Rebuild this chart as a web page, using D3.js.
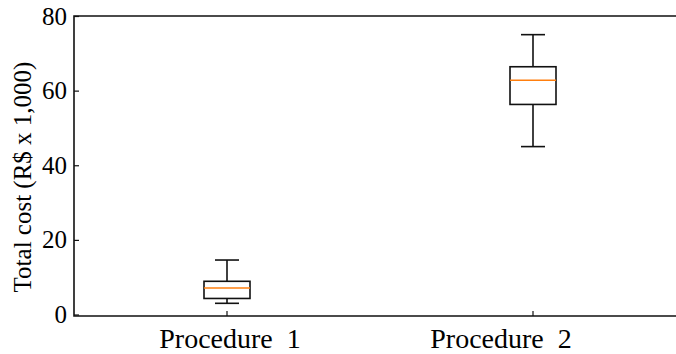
<!DOCTYPE html>
<html>
<head>
<meta charset="utf-8">
<script src="https://cdn.jsdelivr.net/npm/d3@7"></script>
<style>
  html, body { margin: 0; padding: 0; background: #fff; overflow: hidden; }
  svg { display: block; }
  text { font-family: "Liberation Serif", "Times New Roman", serif; fill: #000; }
</style>
</head>
<body>
<svg id="chart" width="676" height="354"></svg>
<script>
// box stats (R$ x 1,000)
var procedures = ['Procedure 1', 'Procedure 2'];
var whiskerLow = [3.0, 45];
var q1 = [4.3, 56.3];
var medians = [7.1, 62.8];
var q3 = [8.9, 66.4];
var whiskerHigh = [14.6, 75];
var yTicks = [0, 20, 40, 60, 80];

var svg = d3.select('#chart');

var plotL = 74, plotR = 686, plotT = 16, plotB = 316;
var W = 676;

var x = d3.scaleLinear().domain([0.5, 2.5]).range([plotL, plotR]);
var y = d3.scaleLinear().domain([-0.4, 80]).range([plotB, plotT]);

var boxW = 46, capW = 24;
var labelShift = [3, -32]; // labels sit off their ticks in the original

var boxes = procedures.map(function(p, i) {
    return { name: p, pos: i + 1, lo: whiskerLow[i], q1: q1[i], med: medians[i], q3: q3[i], hi: whiskerHigh[i] };
});

// spines: left, top, bottom (the right one is past the picture edge)
svg.append('path')
    .attr('d', 'M' + W + ',' + plotT + 'H' + plotL + 'V' + plotB + 'H' + W)
    .attr('fill', 'none').attr('stroke', '#111').attr('stroke-width', 1.6);

// y axis, ticks inward
var yAxis = svg.append('g').attr('transform', 'translate(' + plotL + ',0)')
    .call(d3.axisLeft(y).tickValues(yTicks).tickSizeInner(-5).tickSizeOuter(0).tickPadding(7));
yAxis.select('.domain').remove();
yAxis.selectAll('line').attr('stroke', '#111').attr('stroke-width', 1.2);
yAxis.selectAll('text').style('font-size', '25px').attr('fill', '#000');

// x ticks, inward
svg.selectAll('.xtick').data(boxes).enter().append('line')
    .attr('x1', function(d) { return x(d.pos); })
    .attr('x2', function(d) { return x(d.pos); })
    .attr('y1', plotB).attr('y2', plotB - 5)
    .attr('stroke', '#111').attr('stroke-width', 1.2);

svg.selectAll('.xlabel').data(boxes).enter().append('text')
    .attr('x', function(d, i) { return x(d.pos) + labelShift[i]; })
    .attr('y', 348)
    .attr('text-anchor', 'middle')
    .style('font-size', '28px')
    .text(function(d) { return d.name.replace(' ', '\u00a0\u00a0'); });

// y label
svg.append('text')
    .attr('transform', 'translate(31,' + ((plotT + plotB) / 2 + 11) + ') rotate(-90)')
    .attr('text-anchor', 'middle')
    .style('font-size', '25px')
    .text('Total cost (R$ x 1,000)');

// boxes
var g = svg.selectAll('.box').data(boxes).enter().append('g');

g.append('line') // whisker up
    .attr('x1', function(d) { return x(d.pos); }).attr('x2', function(d) { return x(d.pos); })
    .attr('y1', function(d) { return y(d.q3); }).attr('y2', function(d) { return y(d.hi); })
    .attr('stroke', '#111').attr('stroke-width', 1.6);
g.append('line') // whisker down
    .attr('x1', function(d) { return x(d.pos); }).attr('x2', function(d) { return x(d.pos); })
    .attr('y1', function(d) { return y(d.q1); }).attr('y2', function(d) { return y(d.lo); })
    .attr('stroke', '#111').attr('stroke-width', 1.6);
g.append('line') // cap hi
    .attr('x1', function(d) { return x(d.pos) - capW / 2; }).attr('x2', function(d) { return x(d.pos) + capW / 2; })
    .attr('y1', function(d) { return y(d.hi); }).attr('y2', function(d) { return y(d.hi); })
    .attr('stroke', '#111').attr('stroke-width', 1.6);
g.append('line') // cap lo
    .attr('x1', function(d) { return x(d.pos) - capW / 2; }).attr('x2', function(d) { return x(d.pos) + capW / 2; })
    .attr('y1', function(d) { return y(d.lo); }).attr('y2', function(d) { return y(d.lo); })
    .attr('stroke', '#111').attr('stroke-width', 1.6);
g.append('rect')
    .attr('x', function(d) { return x(d.pos) - boxW / 2; })
    .attr('width', boxW)
    .attr('y', function(d) { return y(d.q3); })
    .attr('height', function(d) { return y(d.q1) - y(d.q3); })
    .attr('fill', 'none').attr('stroke', '#111').attr('stroke-width', 1.6);
g.append('line') // median
    .attr('x1', function(d) { return x(d.pos) - boxW / 2; }).attr('x2', function(d) { return x(d.pos) + boxW / 2; })
    .attr('y1', function(d) { return y(d.med); }).attr('y2', function(d) { return y(d.med); })
    .attr('stroke', '#ff7f0e').attr('stroke-width', 1.6);
</script>
</body>
</html>
